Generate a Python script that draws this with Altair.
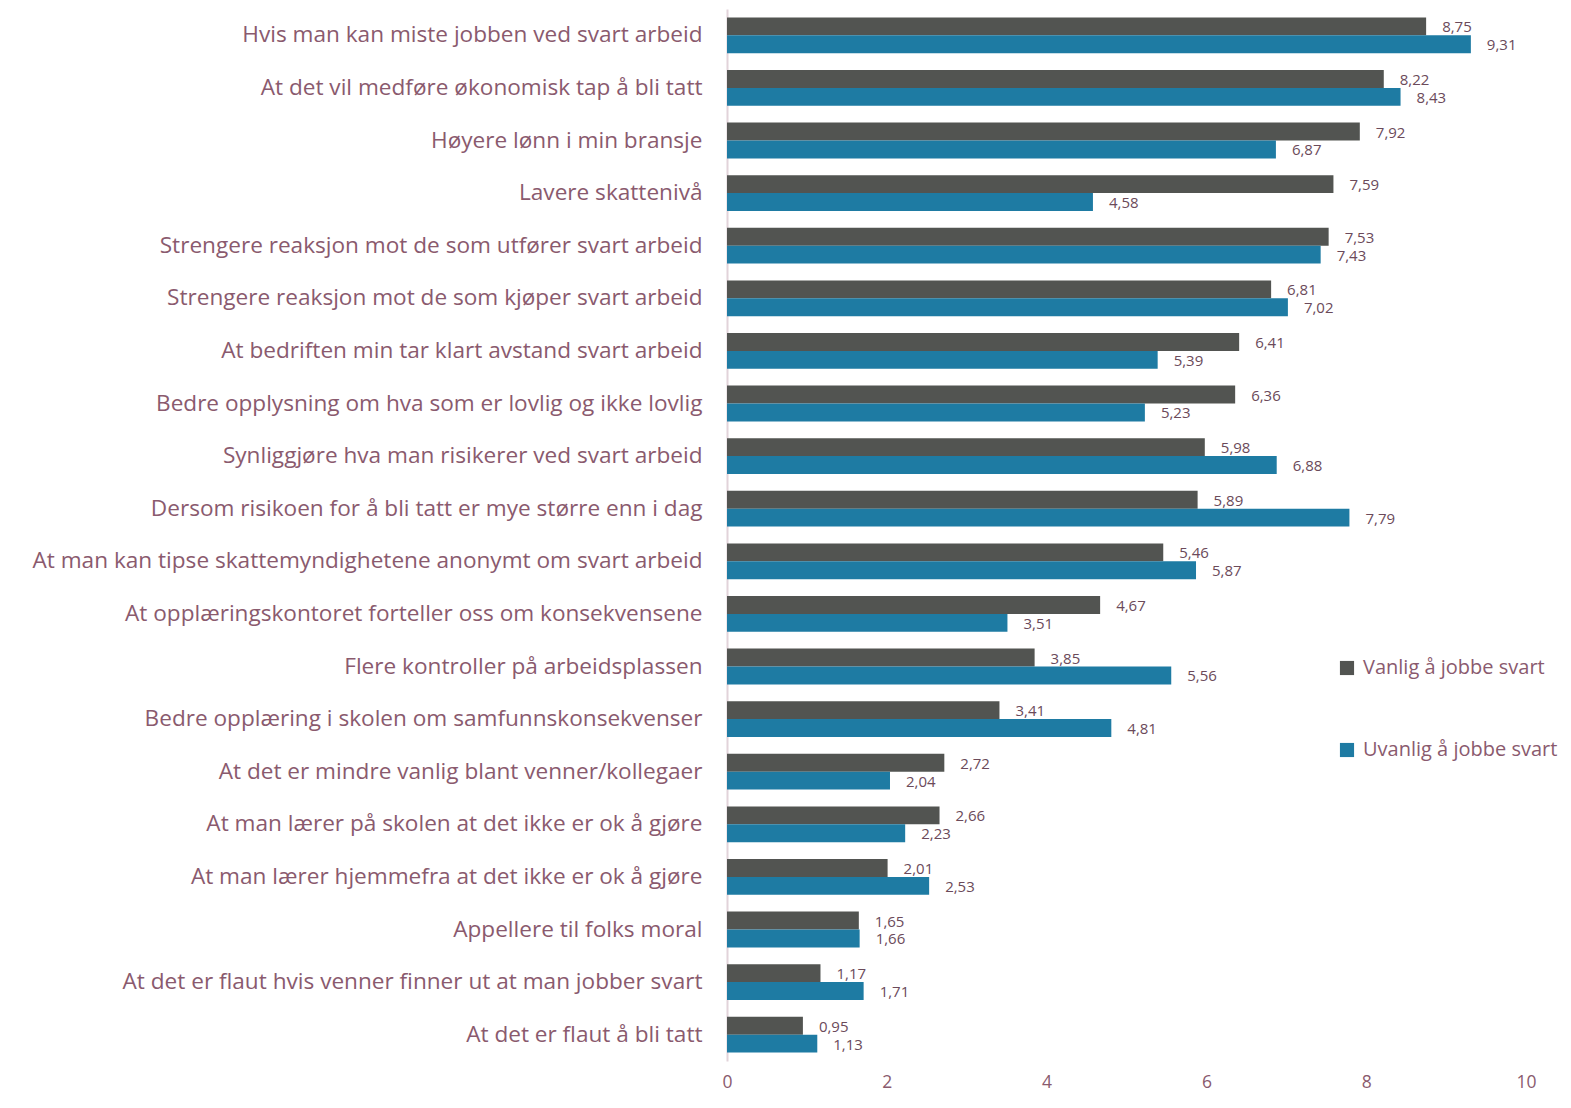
import altair as alt
import pandas as pd

categories = [
    "Hvis man kan miste jobben ved svart arbeid",
    "At det vil medføre økonomisk tap å bli tatt",
    "Høyere lønn i min bransje",
    "Lavere skattenivå",
    "Strengere reaksjon mot de som utfører svart arbeid",
    "Strengere reaksjon mot de som kjøper svart arbeid",
    "At bedriften min tar klart avstand svart arbeid",
    "Bedre opplysning om hva som er lovlig og ikke lovlig",
    "Synliggjøre hva man risikerer ved svart arbeid",
    "Dersom risikoen for å bli tatt er mye større enn i dag",
    "At man kan tipse skattemyndighetene anonymt om svart arbeid",
    "At opplæringskontoret forteller oss om konsekvensene",
    "Flere kontroller på arbeidsplassen",
    "Bedre opplæring i skolen om samfunnskonsekvenser",
    "At det er mindre vanlig blant venner/kollegaer",
    "At man lærer på skolen at det ikke er ok å gjøre",
    "At man lærer hjemmefra at det ikke er ok å gjøre",
    "Appellere til folks moral",
    "At det er flaut hvis venner finner ut at man jobber svart",
    "At det er flaut å bli tatt",
]
vanlig = [8.75, 8.22, 7.92, 7.59, 7.53, 6.81, 6.41, 6.36, 5.98, 5.89,
          5.46, 4.67, 3.85, 3.41, 2.72, 2.66, 2.01, 1.65, 1.17, 0.95]
uvanlig = [9.31, 8.43, 6.87, 4.58, 7.43, 7.02, 5.39, 5.23, 6.88, 7.79,
           5.87, 3.51, 5.56, 4.81, 2.04, 2.23, 2.53, 1.66, 1.71, 1.13]
series = ["Vanlig å jobbe svart", "Uvanlig å jobbe svart"]
colors = ["#525451", "#1E7BA3"]
x_ticks = [0, 2, 4, 6, 8, 10]

rows = []
for c, a, b in zip(categories, vanlig, uvanlig):
    rows.append({"cat": c, "serie": series[0], "val": a,
                 "lbl": f"{a:.2f}".replace(".", ",")})
    rows.append({"cat": c, "serie": series[1], "val": b,
                 "lbl": f"{b:.2f}".replace(".", ",")})
df = pd.DataFrame(rows)

FONT = "Open Sans"
LABEL_COLOR = "#8A5A6E"

y_enc = alt.Y("cat:N", sort=categories,
              scale=alt.Scale(paddingInner=0.32, paddingOuter=0.16),
              axis=alt.Axis(title=None, labelFontSize=22.6, labelFont=FONT,
                            labelColor=LABEL_COLOR, labelPadding=25,
                            ticks=False, domainColor="#E2D3DA", domainWidth=2,
                            labelLimit=720, minExtent=714, maxExtent=714))
y_off = alt.YOffset("serie:N", sort=series)

bars = alt.Chart(df).mark_bar().encode(
    x=alt.X("val:Q", scale=alt.Scale(domain=[0, 10], nice=False),
            axis=alt.Axis(title=None, values=x_ticks, format="d", grid=False,
                          ticks=False, domain=False, labelFontSize=17.5,
                          labelFont=FONT, labelColor=LABEL_COLOR,
                          labelFlush=False, labelPadding=12)),
    y=y_enc,
    yOffset=y_off,
    color=alt.Color("serie:N", sort=series,
                    scale=alt.Scale(domain=series, range=colors),
                    legend=alt.Legend(title=None, orient="none",
                                      legendX=610, legendY=649,
                                      symbolType="square", symbolSize=200,
                                      symbolStrokeWidth=0,
                                      labelFontSize=20, labelFont=FONT,
                                      labelColor=LABEL_COLOR, labelLimit=300,
                                      rowPadding=62, labelOffset=6)),
)

text = alt.Chart(df).mark_text(align="left", baseline="middle", dx=16, dy=1,
                               fontSize=15, font=FONT, color="#6B4A5A").encode(
    x="val:Q",
    y=alt.Y("cat:N", sort=categories),
    yOffset=y_off,
    text="lbl:N",
)

chart = alt.layer(bars, text).properties(
    width=799, height=1052, background="white",
    padding={"top": 1, "left": 5, "right": 0, "bottom": 0},
).configure_view(strokeWidth=0, stroke=None)

chart.save("out.html", embed_options={"renderer": "svg", "actions": False})
